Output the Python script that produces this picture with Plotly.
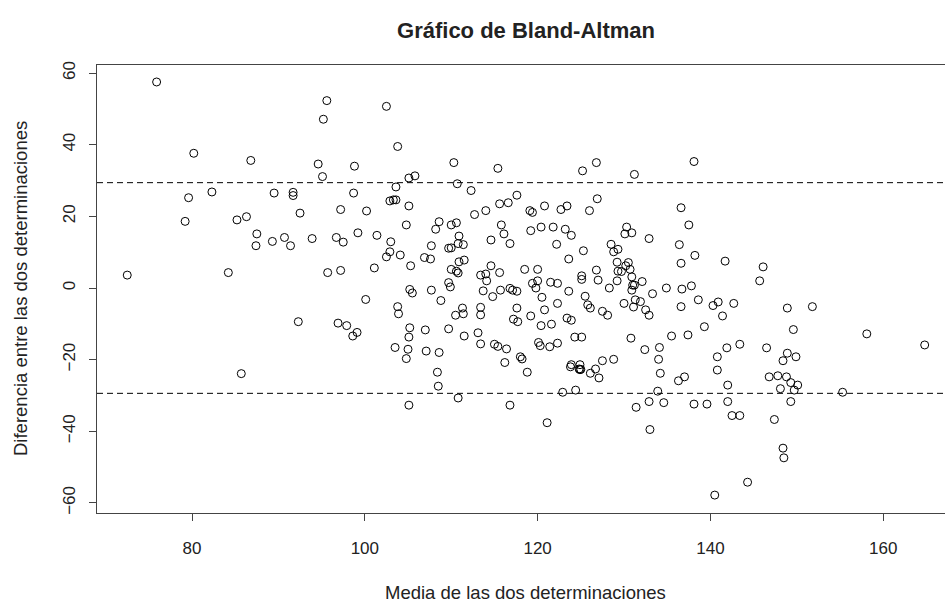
import plotly.graph_objects as go

# Mean of the two determinations (x) and their difference (y)
media = [
    75.9, 95.6, 95.2, 80.2, 86.8, 94.6, 98.8, 95.1, 79.6, 82.3, 89.5, 91.7, 91.7, 98.7, 97.2, 100.2, 86.3, 92.5,
    79.2, 85.2, 87.5, 87.4, 89.3, 90.7, 91.4, 93.9, 96.7, 97.5, 99.2, 101.4, 72.5, 84.2, 95.7, 97.2, 101.1,
    100.1, 92.3, 96.9, 97.9, 99.1, 98.6, 85.7,
    102.5, 103.8, 110.3, 115.4, 125.2, 126.8, 131.2, 105.1, 105.8, 103.6, 110.7, 112.3, 102.9, 103.3, 103.6,
    105.1, 112.7, 114.0, 115.6, 116.6, 117.6, 119.1, 119.4, 120.8, 122.7, 123.4, 126.0, 126.9,
    138.1, 136.6,
    104.8, 108.6, 108.2, 110.0, 110.6, 103.0, 102.9, 102.5, 104.1, 107.7, 109.7, 110.0, 110.9, 110.8, 111.4,
    106.9, 107.6, 105.3, 110.9, 111.5, 110.0, 110.6, 110.8, 115.8, 116.1, 114.6, 116.8, 119.2, 120.4, 121.8,
    123.2, 123.9, 122.2, 125.3, 123.6, 130.3, 130.1, 130.9, 128.5, 128.8, 129.3, 132.9, 129.2, 130.5, 130.2,
    129.3, 129.7, 130.7, 130.9, 129.2, 131.0, 130.9, 131.2, 132.1, 113.4, 114.0, 114.1, 114.6, 115.6, 118.5,
    120.0, 119.4, 119.8, 120.0, 121.5, 122.3, 125.1, 125.1, 126.8, 127.0, 128.3, 105.2, 105.5, 107.7, 109.7,
    109.9, 108.8, 113.7, 114.8, 115.7, 116.8, 117.1, 117.6, 120.5, 123.6, 125.5, 125.8, 126.1, 122.3, 120.8,
    117.6, 127.5, 128.1, 130.0, 131.1, 131.3, 131.9, 132.5, 132.9, 103.8, 103.9, 110.5, 111.3, 111.4, 113.4,
    113.4, 117.2, 117.7, 119.2, 120.4, 121.6, 123.4, 123.9, 105.2, 105.1, 107.0, 109.7, 111.5, 113.1, 124.3,
    125.1, 130.8, 132.4, 103.5, 105.0, 104.8, 107.1, 108.6, 113.4, 115.0, 115.4, 116.4, 120.1, 120.3, 121.4,
    122.3, 118.0, 118.2, 116.2, 123.9, 124.9, 127.5, 128.8,
    137.5, 136.4, 138.2, 136.6, 141.7, 146.1, 145.7, 133.3, 134.9, 136.7, 137.8, 138.6, 136.6, 140.3, 140.9,
    142.7, 141.4, 139.3, 135.5, 137.4, 148.9, 151.8, 149.6, 158.1, 164.8, 141.9, 143.4, 140.8, 146.5, 134.1,
    134.0, 148.9, 149.9, 148.4,
    108.4, 108.5, 105.1, 110.8, 118.8, 116.8, 121.1, 122.9, 124.4, 123.8, 124.8, 124.9, 125.0, 126.1, 126.7,
    127.1, 131.4, 132.9, 133.0,
    134.2, 136.3, 137.0, 140.8, 142.0, 133.9, 134.6, 138.1, 139.6, 142.0, 142.5, 143.4, 146.8, 147.8, 148.8,
    149.3, 150.1, 148.1, 149.7, 149.3, 147.4, 148.4, 148.5, 144.3, 140.5, 155.3,
]
diferencia = [
    57.5, 52.3, 47.1, 37.6, 35.6, 34.6, 34.0, 31.1, 25.2, 26.8, 26.5, 26.7, 25.8, 26.5, 21.9, 21.5, 19.9, 20.9,
    18.6, 19.0, 15.1, 11.8, 13.0, 14.1, 11.8, 13.8, 14.1, 12.8, 15.4, 14.7, 3.6, 4.3, 4.3, 4.9, 5.6,
    -3.2, -9.4, -9.8, -10.5, -12.4, -13.4, -23.9,
    50.7, 39.5, 35.0, 33.4, 32.7, 35.0, 31.7, 30.7, 31.3, 28.2, 29.1, 27.2, 24.3, 24.6, 24.6,
    22.9, 20.5, 21.6, 23.5, 23.8, 25.9, 21.6, 21.1, 22.9, 21.9, 22.9, 21.6, 24.9,
    35.3, 22.4,
    17.6, 18.5, 16.4, 17.6, 18.2, 12.9, 10.1, 8.7, 9.2, 11.8, 11.1, 11.2, 14.5, 12.4, 12.1,
    8.5, 8.1, 6.2, 7.3, 7.8, 5.2, 4.7, 4.2, 17.6, 15.1, 13.4, 12.4, 16.0, 17.0, 17.0,
    16.4, 14.7, 12.2, 10.4, 8.1, 17.0, 15.1, 15.4, 12.2, 10.1, 10.8, 13.8, 7.2, 7.1, 6.2,
    4.7, 4.6, 5.2, 3.1, 2.0, 0.8, -0.6, 0.8, 1.8, 3.6, 3.9, 2.0, 6.2, 4.3, 5.2,
    5.2, 1.3, 0.0, 2.0, 1.6, 1.3, 3.4, 2.4, 5.0, 2.2, 0.0, -0.4, -1.4, -0.6, 1.5,
    0.3, -3.5, -0.8, -2.4, -0.6, -0.1, -0.6, -0.9, -2.6, -0.9, -2.3, -4.7, -5.6, -4.3, -6.1,
    -5.6, -6.5, -7.6, -4.3, -5.3, -3.3, -3.8, -6.1, -7.6, -5.2, -7.2, -7.6, -5.6, -7.2, -5.4,
    -7.5, -8.7, -9.4, -7.8, -10.5, -10.1, -8.4, -9.0, -11.1, -13.7, -11.7, -11.4, -13.4, -12.5, -13.7,
    -13.7, -14.0, -17.2, -16.6, -17.1, -19.7, -17.6, -18.0, -15.6, -15.7, -16.3, -17.0, -15.2, -16.1, -16.4,
    -15.4, -19.2, -19.8, -20.8, -21.4, -21.4, -20.3, -19.9,
    17.6, 12.1, 9.1, 6.9, 7.5, 5.9, 2.0, -1.6, 0.0, -0.3, 0.6, -3.3, -5.2, -4.9, -3.9,
    -4.3, -7.8, -10.8, -13.4, -13.1, -5.6, -5.2, -11.6, -12.8, -15.9, -16.7, -15.7, -19.2, -16.7, -16.6,
    -19.9, -18.2, -19.2, -20.3,
    -23.5, -27.4, -32.7, -30.7, -23.5, -32.7, -37.6, -29.1, -28.5, -22.0, -22.6, -22.8, -22.7, -23.8, -22.6,
    -25.1, -33.3, -31.7, -39.5,
    -23.8, -25.9, -24.8, -22.9, -27.1, -28.8, -32.0, -32.4, -32.4, -31.7, -35.6, -35.6, -24.8, -24.5, -24.8,
    -26.4, -27.1, -28.1, -28.5, -31.7, -36.7, -44.7, -47.4, -54.2, -57.8, -29.1,
]

# Limits of agreement (mean difference +/- 1.96 SD)
limites = [29.4, -29.4]

x_ticks = [80, 100, 120, 140, 160]
y_ticks = [-60, -40, -20, 0, 20, 40, 60]

FONT = "Liberation Sans, Arial, sans-serif"
INK = "#222222"
BOX = "#444444"

fig = go.Figure()
fig.add_trace(go.Scatter(
    x=media, y=diferencia, mode="markers",
    marker=dict(symbol="circle-open", size=8, color="black", line=dict(width=1, color="black")),
    hoverinfo="x+y", showlegend=False,
))

for lim in limites:
    fig.add_shape(type="line", xref="paper", x0=0, x1=1, yref="y", y0=lim, y1=lim,
                  line=dict(color="black", width=1, dash="6px,4px"), layer="above")

fig.update_layout(
    width=945, height=603,
    margin=dict(l=97, r=0, t=65, b=90, pad=0),
    paper_bgcolor="white", plot_bgcolor="white",
    font=dict(family=FONT, color=INK),
    title=dict(text="<b>Gráfico de Bland-Altman</b>", xref="container", x=526 / 945,
               xanchor="center", yref="container", y=1 - 30 / 603, yanchor="middle",
               font=dict(size=22, family=FONT, color=INK)),
    xaxis=dict(range=[69.0, 167.15], tickvals=x_ticks, ticks="outside", ticklen=7, tickwidth=1,
               tickcolor=BOX, showline=True, linecolor=BOX, linewidth=1.3, mirror=True,
               showgrid=False, zeroline=False, tickfont=dict(size=17, color=INK, family=FONT),
               ticklabelstandoff=12),
    yaxis=dict(range=[-62.8, 62.24], tickvals=y_ticks, ticks="outside", ticklen=7, tickwidth=1,
               tickcolor=BOX, showline=True, linecolor=BOX, linewidth=1.3, mirror=False,
               showgrid=False, zeroline=False, tickangle=-90,
               tickfont=dict(size=17, color=INK, family=FONT), ticklabelstandoff=7),
)

fig.add_annotation(text="Media de las dos determinaciones", xref="paper", yref="paper",
                   x=(525 - 97) / 848, y=(513 - 592) / 448, xanchor="center", yanchor="middle",
                   showarrow=False, font=dict(size=18.5, family=FONT, color=INK))
fig.add_annotation(text="Diferencia entre las dos determinaciones", xref="paper", yref="paper",
                   x=(20 - 97) / 848, y=(513 - 289) / 448, xanchor="center", yanchor="middle",
                   textangle=-90, showarrow=False, font=dict(size=18.5, family=FONT, color=INK))

fig.write_html("out.html")
